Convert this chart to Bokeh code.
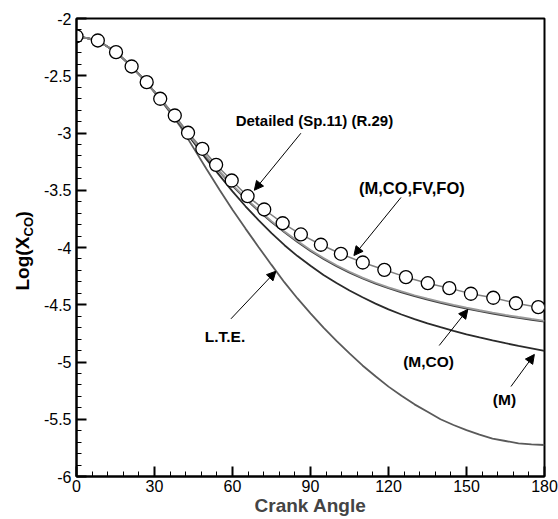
from bokeh.plotting import figure
from bokeh.layouts import row
from bokeh.models import (Range1d, FixedTicker, NumeralTickFormatter, Label, Arrow, NormalHead)
from bokeh.embed import file_html
from bokeh.resources import INLINE

# ---- data ----
angle_detail = [0, 8.2, 15.2, 21.2, 27.0, 32.2, 37.8, 42.9, 48.4, 53.7, 59.7, 65.8, 72.2,
                79.3, 86.3, 94.0, 101.7, 110.1, 118.4, 126.7, 135.1, 143.4, 151.7, 160.3,
                169.0, 177.6, 180]
logx_detail = [-2.155, -2.192, -2.294, -2.419, -2.556, -2.701, -2.847, -2.998, -3.138, -3.278,
               -3.415, -3.552, -3.668, -3.788, -3.886, -3.976, -4.055, -4.131, -4.195, -4.259,
               -4.312, -4.355, -4.404, -4.439, -4.487, -4.521, -4.53]
n_markers = 26

angle = [0, 5, 10, 15, 20, 25, 30, 35, 40, 45, 50, 55, 60, 65, 70, 75, 80, 85, 90,
         95, 100, 105, 110, 115, 120, 125, 130, 135, 140, 145, 150, 155, 160, 165, 170, 175, 180]
logx_mcofvfo = [-2.155, -2.175, -2.218, -2.29, -2.394, -2.51, -2.64, -2.776, -2.92, -3.065,
                -3.205, -3.335, -3.454, -3.567, -3.672, -3.77, -3.86, -3.944, -4.022, -4.092,
                -4.155, -4.212, -4.263, -4.308, -4.348, -4.384, -4.417, -4.447, -4.475, -4.501,
                -4.525, -4.548, -4.569, -4.589, -4.607, -4.624, -4.64]
logx_mco = [-2.155, -2.175, -2.218, -2.29, -2.394, -2.51, -2.64, -2.777, -2.925, -3.07,
            -3.21, -3.34, -3.462, -3.575, -3.68, -3.778, -3.868, -3.952, -4.03, -4.1,
            -4.163, -4.22, -4.271, -4.316, -4.356, -4.392, -4.425, -4.455, -4.483, -4.509,
            -4.533, -4.556, -4.577, -4.597, -4.615, -4.632, -4.648]
logx_m = [-2.155, -2.175, -2.218, -2.29, -2.394, -2.51, -2.64, -2.78, -2.93, -3.08,
          -3.23, -3.37, -3.51, -3.64, -3.76, -3.875, -3.98, -4.075, -4.16, -4.24,
          -4.31, -4.375, -4.435, -4.49, -4.54, -4.585, -4.625, -4.662, -4.696, -4.728,
          -4.758, -4.786, -4.812, -4.836, -4.859, -4.88, -4.902]
logx_lte = [-2.155, -2.175, -2.218, -2.29, -2.394, -2.51, -2.645, -2.79, -2.945, -3.13,
            -3.315, -3.495, -3.67, -3.835, -3.995, -4.152, -4.305, -4.445, -4.575, -4.70,
            -4.815, -4.925, -5.03, -5.125, -5.215, -5.295, -5.37, -5.435, -5.50, -5.55,
            -5.595, -5.635, -5.67, -5.69, -5.71, -5.72, -5.725]

x_ticks = [0, 30, 60, 90, 120, 150, 180]
y_ticks = [-6, -5.5, -5, -4.5, -4, -3.5, -3, -2.5, -2]

FONT = "Liberation Sans"
H = 519
LW = 40  # width of the strip that carries the y-axis title

# ---- y-axis title strip (its frame is aligned with the main frame by the row) ----
ylab = figure(width=LW, height=H, output_backend="svg", toolbar_location=None,
              x_range=Range1d(0, LW), y_range=Range1d(0, H),
              x_axis_type=None, y_axis_type=None,
              min_border_left=0, min_border_right=0, min_border_top=0, min_border_bottom=0)
ylab.grid.visible = False
ylab.outline_line_color = None
ylab.background_fill_color = "white"
ylab.border_fill_color = "white"

def ytitle(text, sx, sy, size):
    ylab.add_layout(Label(x=sx, y=sy, x_units="screen", y_units="screen", text=text,
                          text_font=FONT, text_font_size=size, text_font_style="bold",
                          text_align="left", text_baseline="middle", text_color="black",
                          angle=90, angle_units="deg"))

ytitle("Log(X", 22, 186, "19px")
ytitle("CO", 28, 240, "13px")
ytitle(")", 22, 259, "19px")

# ---- main plot ----
p = figure(width=558 - LW, height=H, output_backend="svg", toolbar_location=None,
           x_range=Range1d(0, 180), y_range=Range1d(-6, -2),
           min_border_left=75 - LW, min_border_right=14, min_border_top=18, min_border_bottom=43)
p.grid.visible = False
p.background_fill_color = "white"
p.border_fill_color = "white"
p.outline_line_color = "black"
p.outline_line_width = 2

x_minor = [v for v in range(0, 181, 6)]
y_minor = [-6 + 0.1 * i for i in range(41)]
p.xaxis.ticker = FixedTicker(ticks=x_ticks, minor_ticks=x_minor)
p.yaxis.ticker = FixedTicker(ticks=y_ticks, minor_ticks=y_minor)
p.yaxis.formatter = NumeralTickFormatter(format="0.[0]")
for ax in (p.xaxis[0], p.yaxis[0]):
    ax.axis_line_width = 2
    ax.axis_line_color = "black"
    ax.major_tick_in = 10
    ax.major_tick_out = 0
    ax.minor_tick_in = 5
    ax.minor_tick_out = 0
    ax.major_tick_line_width = 2
    ax.minor_tick_line_width = 1
    ax.major_label_text_font = FONT
    ax.major_label_text_font_size = "16px"
    ax.major_label_text_color = "black"
p.xaxis.major_label_standoff = 3
p.yaxis.major_label_standoff = 5
p.xaxis.axis_label = "Crank Angle"
p.xaxis.axis_label_text_font = FONT
p.xaxis.axis_label_text_font_size = "19px"
p.xaxis.axis_label_text_font_style = "bold"
p.xaxis.axis_label_standoff = 0

# curves
p.line(angle, logx_lte, line_color="#5a5a5a", line_width=1.8)
p.line(angle, logx_m, line_color="#2a2a2a", line_width=1.8)
p.line(angle, logx_mco, line_color="#404040", line_width=1.8)
p.line(angle, logx_mcofvfo, line_color="#9a9a9a", line_width=1.8)
p.line(angle_detail, logx_detail, line_color="#808080", line_width=1.5)
p.scatter(angle_detail[:n_markers], logx_detail[:n_markers], marker="circle", size=13,
          fill_color="white", line_color="black", line_width=1.3)

def ann(text, x, y, size="15.5px"):
    p.add_layout(Label(x=x, y=y, text=text, text_font=FONT, text_font_size=size,
                       text_font_style="bold", text_align="center", text_baseline="middle",
                       text_color="black"))

def arr(x0, y0, x1, y1):
    p.add_layout(Arrow(end=NormalHead(size=9, fill_color="black", line_color="black", line_width=1),
                       x_start=x0, y_start=y0, x_end=x1, y_end=y1,
                       line_color="black", line_width=1))

ann("Detailed (Sp.11) (R.29)", 91.5, -2.891, "15px")
arr(86.3, -3.002, 68.4, -3.50)
ann("(M,CO,FV,FO)", 129.0, -3.476, "16.5px")
arr(124.8, -3.563, 106.7, -4.07)
ann("(M,CO)", 135.4, -4.996)
arr(139.5, -4.856, 150.5, -4.541)
ann("(M)", 164.6, -5.328)
arr(167.1, -5.214, 176.1, -4.934)
ann("L.T.E.", 57.1, -4.777)
arr(59.4, -4.623, 76.7, -4.207)

layout = row(ylab, p, spacing=0)
open("out.html", "w").write(file_html(layout, INLINE))
